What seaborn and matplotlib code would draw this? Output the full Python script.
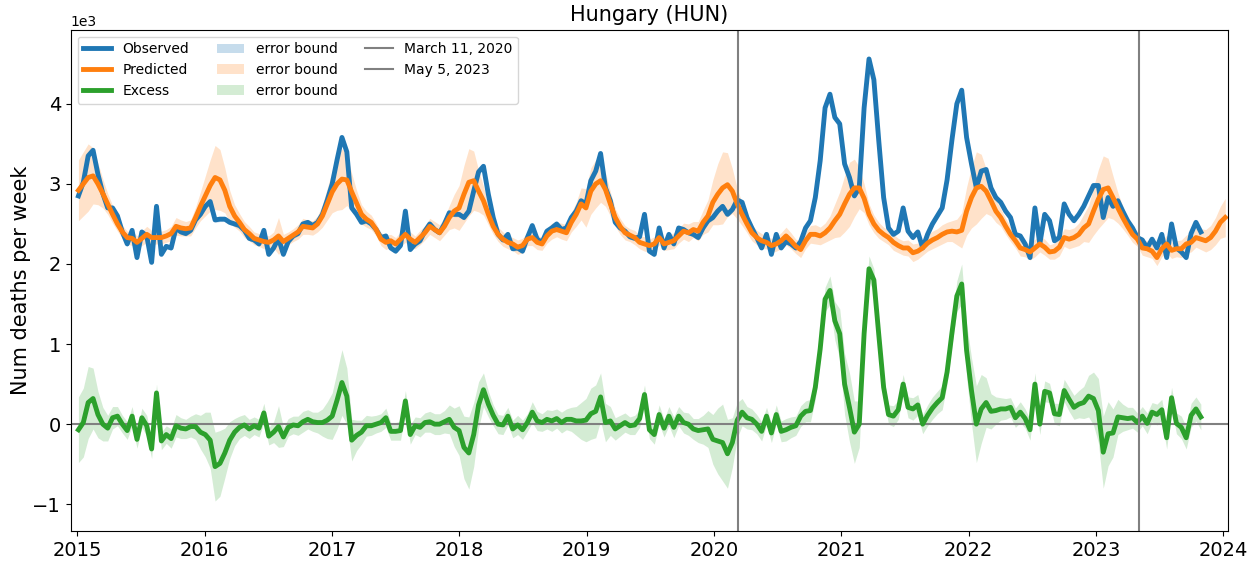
import numpy as np
import pandas as pd
import matplotlib
matplotlib.use("Agg")
import matplotlib.pyplot as plt
import matplotlib.dates as mdates
import seaborn as sns

# Weekly deaths, sampled every two weeks from the first week of 2015
observed = [
    2850, 3020, 3350, 3420, 3120, 2880, 2700, 2700, 2600, 2400, 2250, 2420, 2080, 2400, 2350, 2020, 2720, 2120, 2220, 2200, 2450, 2400, 2380, 2420, 2550, 2620,
    2720, 2780, 2550, 2560, 2560, 2520, 2500, 2480, 2420, 2320, 2300, 2250, 2420, 2120, 2200, 2320, 2120, 2280, 2350, 2380, 2500, 2520, 2480, 2520, 2620, 2800,
    3000, 3300, 3580, 3400, 2700, 2620, 2520, 2540, 2500, 2430, 2330, 2350, 2200, 2160, 2230, 2660, 2180, 2250, 2290, 2410, 2500, 2430, 2390, 2500, 2640, 2620,
    2620, 2580, 2660, 2910, 3150, 3220, 2870, 2580, 2370, 2300, 2370, 2190, 2200, 2160, 2330, 2480, 2310, 2270, 2410, 2450, 2500, 2430, 2450, 2580, 2660, 2790,
    2750, 3040, 3160, 3380, 2950, 2790, 2520, 2450, 2410, 2340, 2320, 2340, 2620, 2160, 2120, 2450, 2200, 2370, 2250, 2450, 2430, 2390, 2370, 2330, 2450, 2540,
    2580, 2660, 2720, 2620, 2680, 2800, 2770, 2580, 2450, 2330, 2200, 2370, 2120, 2370, 2200, 2280, 2250, 2200, 2280, 2450, 2540, 2830, 3290, 3950, 4120, 3830,
    3750, 3250, 3080, 2850, 2950, 3950, 4560, 4300, 3540, 2830, 2450, 2370, 2410, 2700, 2410, 2330, 2400, 2200, 2370, 2500, 2600, 2700, 3050, 3550, 4000, 4170,
    3580, 3250, 2950, 3160, 3180, 2950, 2830, 2770, 2660, 2580, 2370, 2350, 2250, 2080, 2700, 2250, 2620, 2540, 2290, 2330, 2750, 2620, 2540, 2620, 2720, 2850,
    2980, 2980, 2580, 2830, 2720, 2790, 2660, 2540, 2450, 2330, 2300, 2200, 2310, 2200, 2370, 2080, 2500, 2200, 2150, 2080, 2380, 2520, 2400,
]

predicted = [
    2920, 3000, 3080, 3100, 3000, 2880, 2750, 2620, 2500, 2400, 2330, 2320, 2270, 2320, 2370, 2330, 2330, 2330, 2350, 2380, 2470, 2450, 2440, 2450, 2580, 2720,
    2850, 2980, 3080, 3050, 2920, 2720, 2600, 2520, 2430, 2380, 2320, 2300, 2280, 2270, 2300, 2350, 2280, 2320, 2360, 2400, 2470, 2460, 2450, 2500, 2600, 2750,
    2900, 3000, 3060, 3050, 2900, 2760, 2620, 2560, 2520, 2430, 2310, 2270, 2290, 2250, 2310, 2370, 2310, 2270, 2330, 2390, 2470, 2430, 2390, 2470, 2580, 2660,
    2700, 2870, 3020, 3040, 2910, 2790, 2620, 2470, 2370, 2310, 2270, 2250, 2210, 2230, 2310, 2330, 2270, 2250, 2350, 2410, 2430, 2410, 2390, 2520, 2620, 2750,
    2700, 2910, 3000, 3040, 2930, 2750, 2580, 2470, 2390, 2360, 2330, 2270, 2250, 2230, 2250, 2330, 2250, 2270, 2290, 2350, 2410, 2390, 2430, 2410, 2520, 2600,
    2770, 2870, 2950, 2990, 2910, 2750, 2620, 2500, 2390, 2330, 2290, 2270, 2230, 2250, 2290, 2350, 2290, 2220, 2180, 2290, 2370, 2370, 2350, 2390, 2450, 2540,
    2620, 2750, 2870, 2950, 2950, 2820, 2620, 2500, 2420, 2370, 2330, 2270, 2230, 2200, 2200, 2140, 2160, 2200, 2260, 2300, 2330, 2370, 2400, 2410, 2400, 2420,
    2660, 2830, 2950, 2970, 2910, 2790, 2660, 2580, 2470, 2370, 2290, 2200, 2180, 2150, 2200, 2250, 2210, 2150, 2160, 2210, 2330, 2310, 2330, 2370, 2450, 2500,
    2660, 2810, 2930, 2950, 2830, 2700, 2580, 2470, 2370, 2310, 2200, 2190, 2160, 2080, 2190, 2250, 2170, 2190, 2190, 2250, 2270, 2330, 2310, 2290, 2330, 2410, 2520, 2580,
]

# Half-width of the prediction interval
pred_err = [
    380, 400, 420, 350, 260, 180, 130, 110, 90, 80, 80, 90, 80, 90, 100, 90, 80, 80, 80, 90, 110, 100, 90, 100, 130, 180,
    250, 320, 400, 380, 280, 200, 140, 110, 100, 90, 80, 80, 90, 80, 100, 230, 90, 80, 80, 90, 100, 90, 90, 100, 140, 200,
    260, 330, 380, 320, 230, 160, 120, 100, 90, 80, 80, 90, 80, 80, 90, 100, 90, 80, 90, 90, 100, 100, 100, 110, 150, 210,
    280, 360, 420, 370, 260, 180, 130, 100, 90, 90, 80, 80, 90, 90, 80, 100, 90, 80, 90, 100, 90, 100, 100, 120, 150, 200,
    240, 290, 300, 270, 210, 150, 110, 100, 90, 80, 90, 80, 90, 80, 90, 90, 80, 90, 100, 90, 100, 110, 100, 120, 150, 200,
    280, 380, 450, 400, 280, 190, 140, 110, 100, 90, 90, 80, 90, 90, 100, 110, 100, 90, 100, 100, 110, 120, 110, 120, 150, 210,
    280, 350, 400, 360, 260, 180, 130, 110, 100, 90, 90, 100, 90, 90, 100, 110, 100, 90, 100, 110, 110, 120, 120, 130, 160, 220,
    300, 380, 450, 400, 280, 190, 140, 110, 100, 90, 90, 100, 90, 100, 110, 100, 100, 90, 100, 110, 110, 120, 120, 140, 170, 230,
    300, 370, 420, 370, 270, 190, 140, 110, 100, 90, 90, 100, 90, 100, 100, 110, 100, 100, 110, 110, 120, 120, 130, 140, 150, 170, 200, 240,
]
obs_err = 30

start_date = "2015-01-04"
title = "Hungary (HUN)"
y_label = "Num deaths per week"
event_dates = ["2020-03-11", "2023-05-05"]
event_labels = ["March 11, 2020", "May 5, 2023"]
series_labels = ["Observed", "Predicted", "Excess"]

dates_pred = pd.date_range(start_date, periods=len(predicted), freq="14D")
dates_obs = dates_pred[: len(observed)]
obs = np.asarray(observed, dtype=float)
pred = np.asarray(predicted, dtype=float)
perr = np.asarray(pred_err, dtype=float)
excess = obs - pred[: len(obs)]
exc_err = perr[: len(obs)] + obs_err

blue, orange, green = sns.color_palette("tab10")[:3]

fig, ax = plt.subplots(figsize=(12.59, 5.61), dpi=100)
fig.subplots_adjust(left=0.0562, right=0.9754, top=0.947, bottom=0.0535)

b1 = ax.fill_between(dates_obs, obs - obs_err, obs + obs_err, color=blue, alpha=0.25, lw=0)
b2 = ax.fill_between(dates_pred, pred - perr, pred + perr, color=orange, alpha=0.22, lw=0)
b3 = ax.fill_between(dates_obs, excess - exc_err, excess + exc_err, color=green, alpha=0.2, lw=0)

sns.lineplot(x=dates_obs, y=obs, color=blue, lw=3.5, ax=ax)
sns.lineplot(x=dates_pred, y=pred, color=orange, lw=3.5, ax=ax)
sns.lineplot(x=dates_obs, y=excess, color=green, lw=3.5, ax=ax)
l1, l2, l3 = ax.get_lines()[:3]

ax.axhline(0, color="gray", lw=1.5, zorder=1)
ev_lines = [ax.axvline(pd.Timestamp(d), color="gray", lw=1.5) for d in event_dates]

ax.set_xlim(pd.Timestamp("2014-12-13"), pd.Timestamp("2024-01-15"))
ax.set_ylim(-1334, 4925)
ax.xaxis.set_major_locator(mdates.YearLocator())
ax.xaxis.set_major_formatter(mdates.DateFormatter("%Y"))
ax.ticklabel_format(axis="y", style="sci", scilimits=(3, 3))
ax.tick_params(labelsize=14)
ax.set_ylabel(y_label, fontsize=15, labelpad=1)
ax.set_xlabel("")
ax.set_title(title, fontsize=15)

handles = [l1, l2, l3, b1, b2, b3] + ev_lines
labels = series_labels + ["error bound"] * 3 + event_labels
ax.legend(handles, labels, ncol=3, loc="upper left", fontsize=10)

fig.savefig("out.png", dpi=100)
